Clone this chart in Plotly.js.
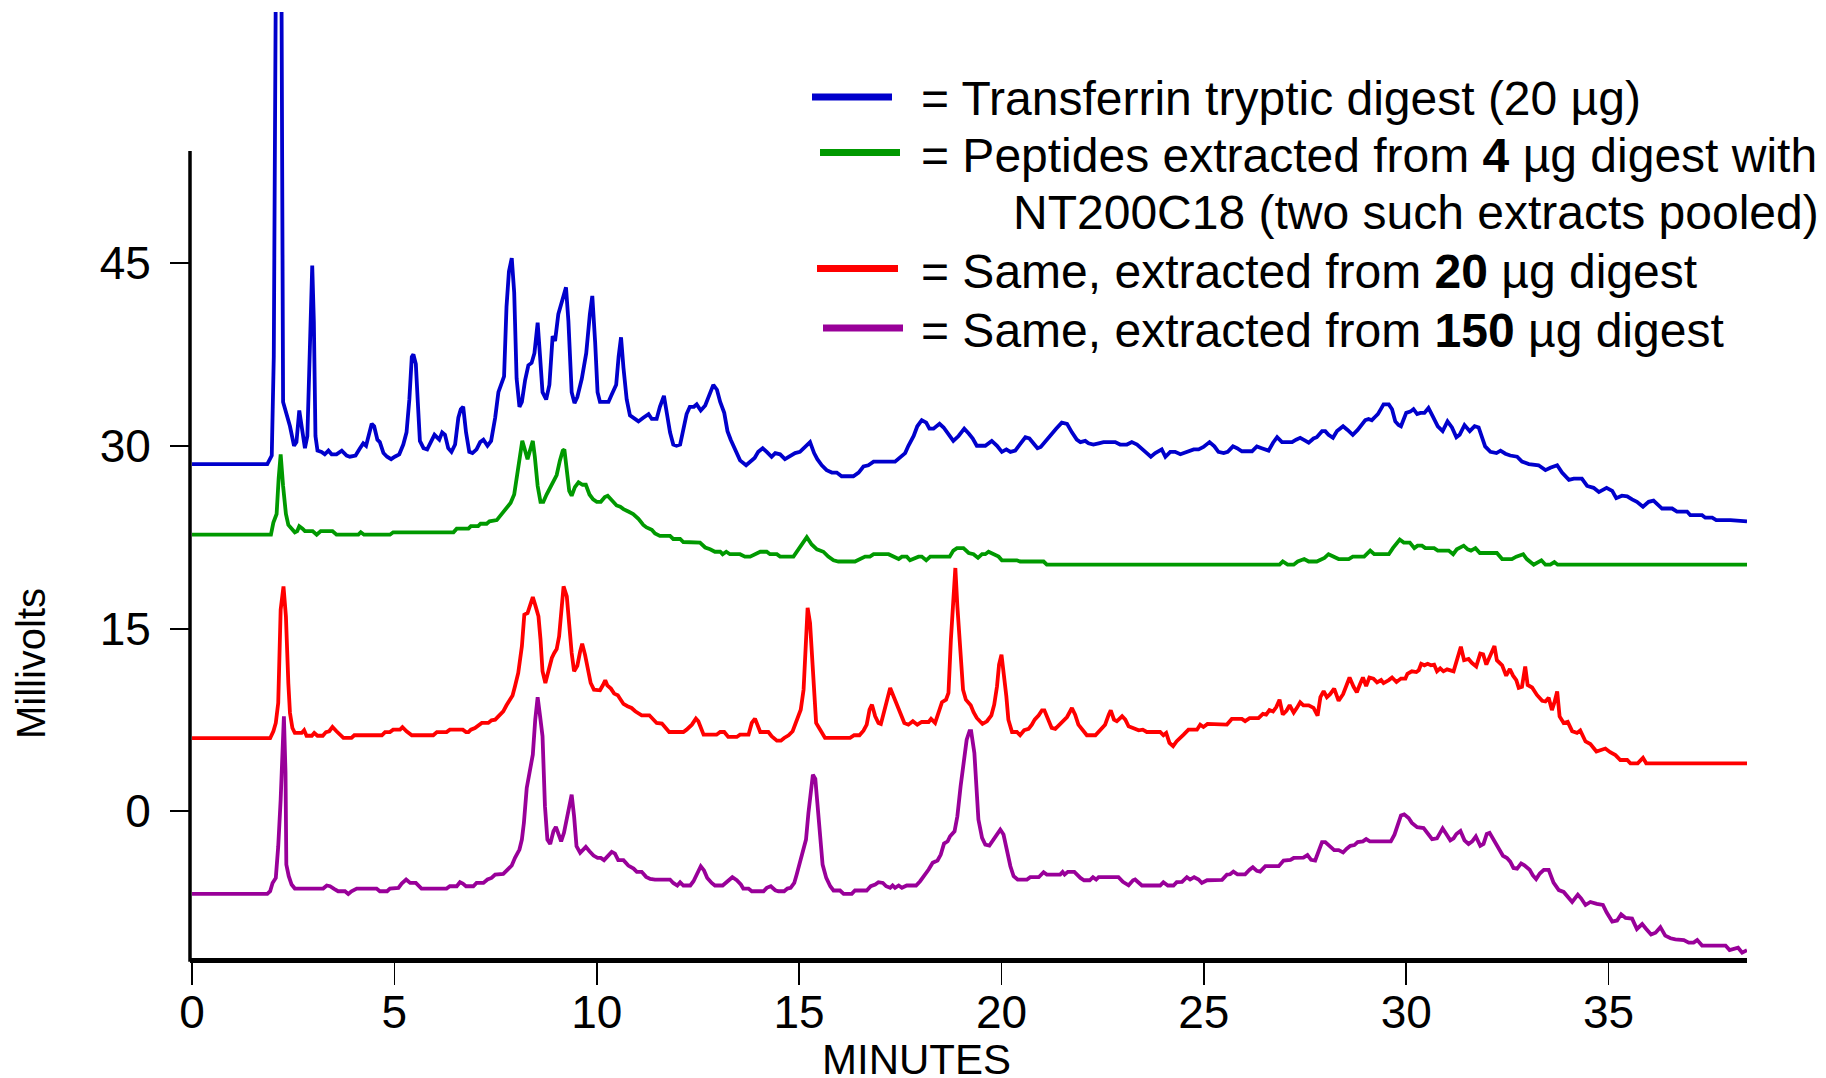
<!DOCTYPE html>
<html><head><meta charset="utf-8">
<script src="https://cdn.plot.ly/plotly-3.0.1.min.js"></script>
<style>html,body{margin:0;padding:0;background:#fff;}#chart{width:1826px;height:1078px;}</style>
</head><body><div id="chart"></div>
<script>
// ---- series labels and colours ----
const seriesNames = [
  'Transferrin tryptic digest (20 µg)',
  'Peptides extracted from <b>4</b> µg digest with<br>NT200C18 (two such extracts pooled)',
  'Same, extracted from <b>20</b> µg digest',
  'Same, extracted from <b>150</b> µg digest'
];
const seriesColors = ['#0000cc', '#009900', '#ff0000', '#990099'];
const xTickVals = [0, 5, 10, 15, 20, 25, 30, 35];
const yTickVals = [0, 15, 30, 45];
const xTitle = 'MINUTES';
const yTitle = 'Millivolts';

// ---- Transferrin tryptic digest (blue) ----
const timeTransferrin = [
 0, 1.86, 1.97, 2.02, 2.07, 2.21, 2.25, 2.34, 2.42, 2.52,
 2.58, 2.65, 2.71, 2.79, 2.85, 2.90, 2.97, 3.01, 3.05, 3.10,
 3.20, 3.28, 3.37, 3.45, 3.57, 3.70, 3.82, 3.90, 4.04, 4.15,
 4.23, 4.30, 4.37, 4.44, 4.50, 4.58, 4.64, 4.73, 4.82, 4.92,
 5.01, 5.12, 5.22, 5.30, 5.37, 5.43, 5.47, 5.53, 5.58, 5.63,
 5.72, 5.81, 5.90, 5.99, 6.11, 6.18, 6.25, 6.33, 6.41, 6.50,
 6.58, 6.64, 6.70, 6.77, 6.85, 6.93, 7.03, 7.12, 7.20, 7.30,
 7.39, 7.49, 7.57, 7.65, 7.71, 7.77, 7.83, 7.90, 7.96, 8.02,
 8.09, 8.15, 8.23, 8.31, 8.39, 8.46, 8.54, 8.60, 8.66, 8.75,
 8.83, 8.91, 8.97, 9.05, 9.13, 9.24, 9.30, 9.38, 9.45, 9.52,
 9.63, 9.74, 9.83, 9.89, 9.96, 10.02, 10.08, 10.29, 10.37, 10.48,
 10.54, 10.60, 10.66, 10.74, 10.82, 10.95, 11.03, 11.15, 11.28, 11.36,
 11.48, 11.56, 11.66, 11.74, 11.81, 11.89, 11.97, 12.06, 12.14, 12.22,
 12.30, 12.40, 12.47, 12.57, 12.68, 12.78, 12.88, 12.97, 13.05, 13.15,
 13.23, 13.31, 13.42, 13.54, 13.69, 13.79, 13.90, 13.99, 14.10, 14.20,
 14.32, 14.41, 14.53, 14.65, 14.78, 14.90, 15.02, 15.15, 15.27, 15.37,
 15.45, 15.56, 15.68, 15.81, 15.93, 16.05, 16.34, 16.47, 16.59, 16.71,
 16.84, 17.37, 17.50, 17.62, 17.70, 17.83, 17.92, 18.03, 18.14, 18.22,
 18.32, 18.47, 18.57, 18.69, 18.81, 18.94, 19.08, 19.19, 19.29, 19.39,
 19.60, 19.76, 19.89, 20.01, 20.12, 20.22, 20.34, 20.45, 20.59, 20.69,
 20.79, 20.89, 20.97, 21.12, 21.22, 21.35, 21.49, 21.62, 21.74, 21.86,
 21.95, 22.07, 22.15, 22.27, 22.40, 22.52, 22.81, 22.93, 23.10, 23.22,
 23.35, 23.47, 23.59, 23.69, 23.80, 23.96, 24.05, 24.17, 24.29, 24.42,
 24.58, 24.75, 24.87, 24.99, 25.14, 25.26, 25.36, 25.49, 25.59, 25.72,
 25.82, 25.94, 26.19, 26.31, 26.43, 26.52, 26.60, 26.71, 26.81, 26.93,
 27.18, 27.28, 27.38, 27.46, 27.59, 27.71, 27.79, 27.92, 28.00, 28.08,
 28.19, 28.29, 28.44, 28.55, 28.68, 28.80, 28.91, 28.99, 29.07, 29.15,
 29.24, 29.30, 29.38, 29.44, 29.57, 29.65, 29.73, 29.81, 29.87, 29.94,
 30.00, 30.10, 30.18, 30.27, 30.35, 30.45, 30.55, 30.66, 30.78, 30.90,
 31.02, 31.13, 31.24, 31.32, 31.44, 31.57, 31.69, 31.79, 31.87, 31.95,
 32.08, 32.23, 32.33, 32.45, 32.57, 32.74, 32.86, 33.03, 33.27, 33.44,
 33.56, 33.73, 33.85, 34.02, 34.14, 34.34, 34.47, 34.63, 34.76, 34.95,
 35.09, 35.19, 35.33, 35.46, 35.58, 35.70, 35.85, 35.99, 36.11, 36.24,
 36.32, 36.57, 36.69, 36.94, 37.02, 37.31, 37.39, 37.56, 37.66, 38.01,
 38.42
];
const mvTransferrin = [
 28.5, 28.5, 29.2, 37.3, 68, 68, 33.6, 32.5, 31.6, 30.0,
 30.3, 32.9, 31.4, 29.8, 30.8, 35.8, 44.8, 40.2, 30.8, 29.6,
 29.5, 29.3, 29.6, 29.3, 29.3, 29.6, 29.2, 29.1, 29.2, 29.8,
 30.2, 30.0, 30.9, 31.8, 31.6, 30.5, 30.3, 29.4, 29.1, 28.9,
 29.1, 29.3, 30.1, 31.1, 33.8, 37.3, 37.5, 36.7, 33.5, 30.4,
 29.8, 29.7, 30.3, 30.9, 30.5, 31.1, 30.9, 29.8, 29.5, 30.1,
 32.3, 33.0, 33.2, 31.1, 29.5, 29.4, 29.7, 30.3, 30.5, 30.0,
 30.4, 32.3, 34.4, 35.3, 35.7, 41.4, 44.3, 45.4, 42.6, 35.5,
 33.2, 33.6, 35.4, 36.6, 36.8, 37.6, 40.1, 37.3, 34.4, 33.8,
 35.0, 39.0, 38.6, 40.8, 41.8, 43.0, 40.2, 34.4, 33.5, 34.0,
 35.5, 37.6, 40.8, 42.3, 38.5, 34.4, 33.6, 33.6, 34.2, 35.0,
 37.3, 38.9, 36.4, 33.8, 32.5, 32.2, 32.0, 32.3, 32.6, 32.2,
 32.2, 33.2, 34.1, 32.5, 31.1, 30.1, 30.0, 30.1, 31.3, 32.6,
 33.2, 33.2, 33.4, 32.9, 33.3, 34.2, 35.0, 34.6, 33.6, 32.7,
 31.2, 30.5, 29.7, 28.8, 28.4, 28.7, 29.0, 29.5, 29.8, 29.5,
 29.1, 29.4, 29.3, 28.9, 29.2, 29.4, 29.5, 29.9, 30.3, 29.4,
 28.9, 28.4, 28.0, 27.8, 27.8, 27.5, 27.5, 27.8, 28.3, 28.4,
 28.7, 28.7, 29.1, 29.4, 30.0, 30.8, 31.6, 32.1, 31.9, 31.4,
 31.4, 31.8, 31.5, 30.9, 30.4, 30.8, 31.4, 31.0, 30.6, 30.0,
 30.0, 30.4, 30.0, 29.5, 29.7, 29.5, 29.6, 30.1, 30.7, 30.6,
 30.2, 29.8, 29.9, 30.5, 31.0, 31.4, 31.9, 31.8, 31.1, 30.5,
 30.3, 30.4, 30.2, 30.1, 30.2, 30.3, 30.3, 30.1, 30.1, 30.3,
 30.1, 29.7, 29.4, 29.1, 29.4, 29.7, 29.1, 29.5, 29.5, 29.3,
 29.5, 29.7, 29.7, 29.9, 30.3, 29.95, 29.5, 29.4, 29.5, 29.95,
 29.8, 29.55, 29.55, 29.95, 29.8, 29.7, 29.6, 30.25, 30.7, 30.3,
 30.3, 30.5, 30.65, 30.5, 30.25, 30.6, 30.7, 31.2, 31.2, 30.9,
 30.65, 31.2, 31.6, 31.3, 30.9, 31.3, 31.8, 32.1, 32.2, 32.1,
 32.4, 32.6, 33.05, 33.4, 33.4, 33.0, 32.0, 31.7, 31.6, 32.1,
 32.7, 32.8, 33.0, 32.6, 32.7, 32.7, 33.1, 32.4, 31.6, 31.2,
 32.0, 31.5, 30.7, 30.9, 31.7, 31.2, 31.6, 31.5, 30.7, 29.95,
 29.5, 29.4, 29.6, 29.35, 29.2, 29.1, 28.7, 28.5, 28.4, 28.0,
 28.2, 28.4, 27.8, 27.2, 27.3, 27.3, 26.7, 26.55, 26.2, 26.55,
 26.3, 25.7, 25.9, 25.85, 25.6, 25.4, 25.0, 25.4, 25.5, 25.1,
 24.85, 24.85, 24.6, 24.6, 24.3, 24.3, 24.1, 24.1, 23.9, 23.9,
 23.8
];

// ---- Peptides from 4 µg digest (green) ----
const timeExtract4 = [
 0, 1.95, 2.01, 2.09, 2.14, 2.19, 2.25, 2.32, 2.38, 2.46,
 2.54, 2.60, 2.65, 2.73, 2.79, 2.98, 3.08, 3.18, 3.47, 3.57,
 4.11, 4.17, 4.25, 4.89, 4.97, 6.46, 6.54, 6.83, 6.89, 7.07,
 7.13, 7.28, 7.35, 7.53, 7.65, 7.77, 7.87, 7.96, 8.02, 8.09,
 8.16, 8.23, 8.29, 8.35, 8.42, 8.47, 8.54, 8.61, 8.68, 8.76,
 8.89, 9.01, 9.09, 9.16, 9.20, 9.26, 9.32, 9.38, 9.46, 9.55,
 9.65, 9.73, 9.82, 9.91, 10.00, 10.10, 10.20, 10.27, 10.37, 10.49,
 10.58, 10.66, 10.78, 10.90, 11.03, 11.15, 11.23, 11.36, 11.44, 11.56,
 11.81, 11.89, 12.06, 12.14, 12.55, 12.68, 12.80, 12.92, 13.05, 13.11,
 13.20, 13.29, 13.54, 13.66, 13.79, 13.91, 14.04, 14.20, 14.28, 14.45,
 14.53, 14.86, 14.94, 15.07, 15.19, 15.31, 15.44, 15.60, 15.72, 15.85,
 15.97, 16.38, 16.51, 16.63, 16.75, 16.84, 17.21, 17.33, 17.46, 17.54,
 17.66, 17.74, 17.95, 18.03, 18.14, 18.24, 18.72, 18.81, 18.90, 19.06,
 19.19, 19.31, 19.42, 19.52, 19.60, 19.68, 19.80, 19.93, 20.01, 20.38,
 20.46, 21.04, 21.12, 26.87, 26.95, 27.07, 27.22, 27.32, 27.48, 27.59,
 27.79, 27.89, 27.98, 28.08, 28.19, 28.33, 28.58, 28.68, 28.96, 29.11,
 29.21, 29.57, 29.67, 29.77, 29.84, 29.94, 30.09, 30.20, 30.28, 30.39,
 30.47, 30.69, 30.78, 31.05, 31.16, 31.25, 31.42, 31.52, 31.60, 31.71,
 31.82, 32.24, 32.37, 32.61, 32.72, 32.89, 32.98, 33.15, 33.27, 33.34,
 33.44, 33.56, 33.66, 33.74, 38.42
];
const mvExtract4 = [
 22.7, 22.7, 23.7, 24.4, 27.3, 29.3, 26.7, 24.4, 23.5, 23.2,
 22.9, 23.0, 23.4, 23.2, 23.0, 23.0, 22.7, 23.0, 23.0, 22.7,
 22.7, 22.9, 22.7, 22.7, 22.9, 22.9, 23.2, 23.2, 23.4, 23.4,
 23.6, 23.6, 23.8, 23.9, 24.4, 24.8, 25.3, 26.0, 27.2, 28.8,
 30.4, 29.6, 28.9, 29.6, 30.4, 29.1, 26.7, 25.4, 25.4, 26.0,
 26.8, 27.6, 28.8, 29.6, 29.7, 27.9, 26.3, 25.9, 26.6, 27.0,
 26.8, 26.8, 26.0, 25.6, 25.4, 25.4, 25.8, 25.9, 25.5, 25.1,
 25.0, 24.8, 24.6, 24.4, 24.0, 23.5, 23.3, 23.1, 22.8, 22.6,
 22.6, 22.35, 22.35, 22.1, 22.05, 21.65, 21.5, 21.3, 21.3, 21.1,
 21.3, 21.1, 21.1, 20.9, 20.9, 21.1, 21.3, 21.3, 21.1, 21.1,
 20.9, 20.9, 21.3, 22.0, 22.5, 21.9, 21.5, 21.3, 20.9, 20.6,
 20.5, 20.5, 20.7, 20.9, 20.9, 21.1, 21.1, 20.9, 20.7, 20.9,
 20.9, 20.6, 20.9, 20.9, 20.6, 20.9, 20.9, 21.4, 21.6, 21.6,
 21.2, 21.1, 20.8, 21.1, 21.1, 21.3, 21.1, 20.9, 20.6, 20.6,
 20.5, 20.5, 20.24, 20.24, 20.5, 20.24, 20.24, 20.5, 20.7, 20.5,
 20.5, 20.7, 20.8, 21.1, 20.9, 20.7, 20.7, 20.9, 20.9, 21.4,
 21.1, 21.1, 21.6, 22.05, 22.3, 22.05, 22.05, 21.6, 21.8, 21.8,
 21.6, 21.6, 21.4, 21.4, 21.1, 21.5, 21.8, 21.5, 21.4, 21.6,
 21.2, 21.2, 20.7, 20.7, 20.9, 21.1, 20.7, 20.24, 20.5, 20.6,
 20.24, 20.24, 20.45, 20.24, 20.24
];

// ---- Same, from 20 µg digest (red) ----
const timeExtract20 = [
 0, 1.93, 2.01, 2.07, 2.13, 2.19, 2.26, 2.32, 2.38, 2.42,
 2.48, 2.54, 2.71, 2.77, 2.83, 2.96, 3.02, 3.10, 3.23, 3.31,
 3.39, 3.47, 3.57, 3.74, 3.94, 4.01, 4.69, 4.77, 4.89, 4.97,
 5.14, 5.20, 5.30, 5.43, 5.96, 6.05, 6.29, 6.37, 6.69, 6.77,
 6.83, 6.89, 6.99, 7.07, 7.16, 7.32, 7.40, 7.49, 7.59, 7.69,
 7.77, 7.87, 7.92, 7.98, 8.06, 8.15, 8.21, 8.29, 8.35, 8.42,
 8.49, 8.56, 8.61, 8.66, 8.73, 8.80, 8.89, 8.95, 9.01, 9.07,
 9.13, 9.18, 9.26, 9.32, 9.38, 9.44, 9.52, 9.59, 9.64, 9.71,
 9.78, 9.85, 9.93, 10.08, 10.15, 10.21, 10.26, 10.35, 10.43, 10.52,
 10.58, 10.66, 10.76, 10.86, 10.95, 11.03, 11.11, 11.30, 11.40, 11.48,
 11.61, 11.69, 11.79, 12.14, 12.22, 12.35, 12.45, 12.51, 12.59, 12.64,
 12.96, 13.05, 13.15, 13.25, 13.46, 13.54, 13.75, 13.83, 13.91, 13.97,
 14.04, 14.24, 14.32, 14.45, 14.55, 14.63, 14.74, 14.84, 14.94, 15.04,
 15.11, 15.17, 15.21, 15.27, 15.32, 15.37, 15.42, 15.52, 15.64, 16.26,
 16.36, 16.49, 16.59, 16.67, 16.74, 16.80, 16.88, 16.96, 17.02, 17.08,
 17.17, 17.25, 17.35, 17.46, 17.54, 17.60, 17.70, 17.81, 17.92, 18.03,
 18.20, 18.26, 18.36, 18.44, 18.53, 18.63, 18.69, 18.75, 18.80, 18.86,
 18.91, 18.98, 19.05, 19.12, 19.24, 19.31, 19.39, 19.53, 19.64, 19.75,
 19.82, 19.89, 19.94, 20.00, 20.05, 20.12, 20.17, 20.26, 20.38, 20.46,
 20.56, 20.67, 20.75, 20.82, 20.92, 21.00, 21.06, 21.15, 21.24, 21.33,
 21.45, 21.62, 21.74, 21.82, 21.90, 21.99, 22.11, 22.32, 22.44, 22.56,
 22.65, 22.70, 22.78, 22.85, 22.98, 23.06, 23.14, 23.26, 23.39, 23.49,
 23.59, 23.92, 24.00, 24.07, 24.15, 24.24, 24.33, 24.50, 24.62, 24.83,
 24.91, 24.99, 25.09, 25.57, 25.69, 25.94, 26.02, 26.13, 26.35, 26.46,
 26.54, 26.62, 26.71, 26.79, 26.87, 26.95, 27.04, 27.12, 27.22, 27.30,
 27.38, 27.46, 27.59, 27.71, 27.81, 27.88, 27.96, 28.04, 28.12, 28.22,
 28.33, 28.44, 28.52, 28.60, 28.70, 28.78, 28.85, 28.93, 29.01, 29.09,
 29.19, 29.28, 29.38, 29.44, 29.57, 29.65, 29.76, 29.87, 29.98, 30.03,
 30.14, 30.25, 30.31, 30.37, 30.45, 30.53, 30.61, 30.69, 30.76, 30.84,
 30.92, 31.01, 31.17, 31.25, 31.35, 31.43, 31.54, 31.62, 31.73, 31.83,
 31.90, 31.98, 32.06, 32.18, 32.24, 32.37, 32.47, 32.56, 32.64, 32.72,
 32.78, 32.86, 32.94, 33.00, 33.11, 33.23, 33.36, 33.44, 33.52, 33.60,
 33.66, 33.73, 33.79, 33.89, 33.99, 34.10, 34.22, 34.30, 34.43, 34.55,
 34.70, 34.81, 34.92, 35.04, 35.17, 35.29, 35.46, 35.54, 35.72, 35.85,
 35.93, 38.42
];
const mvExtract20 = [
 6.0, 6.0, 6.57, 7.25, 8.9, 16.55, 18.46, 16.0, 10.5, 8.07,
 6.84, 6.43, 6.43, 6.65, 6.2, 6.2, 6.43, 6.2, 6.2, 6.5,
 6.57, 6.92, 6.57, 6.02, 6.02, 6.24, 6.24, 6.5, 6.5, 6.7,
 6.7, 6.9, 6.57, 6.24, 6.24, 6.5, 6.5, 6.7, 6.7, 6.5,
 6.5, 6.7, 6.84, 7.06, 7.25, 7.25, 7.47, 7.52, 7.85, 8.2,
 8.7, 9.3, 9.5, 10.26, 11.35, 13.54, 16.14, 16.27, 16.96, 17.59,
 16.82, 16.0, 14.1, 11.49, 10.53, 11.49, 12.58, 13.0, 13.32, 14.36,
 16.55, 18.46, 17.64, 15.2, 13.0, 11.49, 11.95, 13.13, 13.76, 12.86,
 11.49, 10.53, 9.98, 9.93, 10.34, 10.75, 10.34, 10.07, 9.66, 9.52,
 9.22, 8.81, 8.62, 8.48, 8.21, 8.02, 7.88, 7.88, 7.52, 7.25,
 7.2, 6.92, 6.51, 6.51, 6.7, 7.11, 7.61, 7.39, 6.57, 6.29,
 6.29, 6.51, 6.51, 6.1, 6.1, 6.29, 6.29, 7.25, 7.61, 7.11,
 6.51, 6.51, 6.16, 5.8, 5.8, 6.02, 6.24, 6.57, 7.52, 8.34,
 9.98, 14.1, 16.7, 15.45, 12.72, 9.98, 7.25, 6.7, 6.02, 6.02,
 6.24, 6.24, 6.62, 7.11, 8.34, 8.75, 7.8, 7.25, 7.17, 7.93,
 9.08, 10.12, 9.3, 8.34, 7.8, 7.25, 7.11, 7.39, 7.11, 7.33,
 7.33, 7.58, 7.25, 8.07, 8.95, 9.16, 9.71, 14.09, 17.37, 19.97,
 16.82, 12.72, 9.98, 9.16, 8.7, 8.13, 7.66, 7.17, 7.39, 7.88,
 8.75, 10.26, 12.04, 12.86, 11.63, 9.44, 7.52, 6.51, 6.51, 6.24,
 6.65, 6.76, 7.11, 7.52, 7.88, 8.29, 8.29, 7.52, 6.84, 6.76,
 7.17, 7.74, 8.48, 7.93, 7.11, 6.7, 6.24, 6.24, 6.7, 7.11,
 7.93, 8.29, 7.52, 7.39, 7.8, 7.52, 6.98, 6.84, 6.65, 6.7,
 6.51, 6.51, 6.24, 6.43, 5.61, 5.34, 5.75, 6.29, 6.7, 6.7,
 7.11, 6.92, 7.17, 7.12, 7.58, 7.58, 7.4, 7.64, 7.64, 8.0,
 7.94, 8.31, 8.19, 8.55, 9.16, 7.94, 8.25, 8.7, 8.1, 8.49,
 8.95, 8.7, 8.7, 8.49, 7.85, 9.37, 9.86, 9.37, 9.61, 10.07,
 9.07, 9.61, 10.22, 10.98, 10.22, 9.77, 10.37, 10.98, 10.28, 10.98,
 10.89, 10.58, 10.77, 10.52, 10.77, 10.98, 10.61, 10.89, 10.89, 11.28,
 11.49, 11.43, 11.58, 12.1, 11.98, 12.1, 11.98, 12.04, 11.49, 11.74,
 11.49, 11.65, 11.49, 12.34, 13.5, 12.4, 12.5, 12.19, 11.89, 12.95,
 12.89, 12.04, 12.71, 13.56, 12.4, 11.98, 11.13, 11.68, 11.13, 10.77,
 10.13, 10.22, 11.89, 10.37, 10.16, 9.55, 9.07, 9.01, 9.31, 8.31,
 8.92, 9.83, 7.79, 7.25, 7.34, 6.58, 6.43, 6.64, 5.73, 5.52,
 4.91, 5.06, 5.15, 4.85, 4.61, 4.21, 4.21, 3.94, 3.94, 4.39,
 3.94, 3.94
];

// ---- Same, from 150 µg digest (purple) ----
const timeExtract150 = [
 0, 1.86, 1.93, 1.99, 2.07, 2.13, 2.19, 2.24, 2.27, 2.31,
 2.33, 2.39, 2.46, 2.54, 3.24, 3.33, 3.41, 3.51, 3.61, 3.78,
 3.86, 3.94, 4.07, 4.56, 4.64, 4.82, 4.89, 5.10, 5.18, 5.29,
 5.39, 5.53, 5.67, 6.29, 6.37, 6.54, 6.62, 6.69, 6.77, 6.95,
 7.03, 7.20, 7.30, 7.40, 7.49, 7.69, 7.77, 7.90, 7.98, 8.09,
 8.15, 8.20, 8.27, 8.33, 8.42, 8.48, 8.54, 8.60, 8.66, 8.72,
 8.78, 8.85, 8.93, 8.99, 9.05, 9.12, 9.19, 9.28, 9.38, 9.44,
 9.50, 9.59, 9.65, 9.73, 9.82, 9.92, 10.02, 10.10, 10.18, 10.29,
 10.37, 10.45, 10.53, 10.66, 10.78, 10.91, 10.99, 11.11, 11.22, 11.32,
 11.44, 11.81, 11.89, 11.99, 12.06, 12.14, 12.31, 12.39, 12.47, 12.57,
 12.65, 12.73, 12.84, 12.92, 13.11, 13.23, 13.35, 13.46, 13.56, 13.62,
 13.75, 13.83, 14.12, 14.20, 14.30, 14.41, 14.49, 14.63, 14.71, 14.79,
 14.88, 14.94, 15.02, 15.11, 15.17, 15.23, 15.29, 15.34, 15.40, 15.45,
 15.52, 15.58, 15.67, 15.77, 15.85, 16.01, 16.10, 16.30, 16.38, 16.67,
 16.77, 16.88, 16.96, 17.07, 17.15, 17.25, 17.31, 17.37, 17.46, 17.54,
 17.66, 17.89, 17.99, 18.09, 18.20, 18.30, 18.42, 18.50, 18.58, 18.67,
 18.73, 18.84, 18.91, 18.99, 19.08, 19.14, 19.21, 19.25, 19.33, 19.38,
 19.43, 19.52, 19.60, 19.70, 19.80, 19.89, 19.97, 20.05, 20.13, 20.22,
 20.30, 20.40, 20.63, 20.71, 20.92, 21.04, 21.12, 21.45, 21.51, 21.56,
 21.64, 21.80, 21.95, 22.04, 22.18, 22.26, 22.34, 22.40, 22.89, 23.00,
 23.14, 23.25, 23.30, 23.47, 23.92, 24.00, 24.11, 24.25, 24.33, 24.46,
 24.58, 24.66, 24.76, 24.87, 24.95, 25.08, 25.45, 25.57, 25.65, 25.73,
 25.83, 26.02, 26.13, 26.21, 26.31, 26.39, 26.52, 26.85, 26.97, 27.14,
 27.22, 27.46, 27.56, 27.65, 27.75, 27.84, 27.92, 28.00, 28.11, 28.22,
 28.33, 28.44, 28.53, 28.62, 28.72, 28.80, 28.93, 29.01, 29.10, 29.62,
 29.71, 29.79, 29.87, 29.95, 30.06, 30.14, 30.27, 30.43, 30.51, 30.64,
 30.76, 30.90, 30.99, 31.09, 31.17, 31.24, 31.34, 31.44, 31.54, 31.63,
 31.72, 31.83, 31.91, 31.99, 32.06, 32.16, 32.28, 32.39, 32.49, 32.57,
 32.65, 32.74, 32.84, 32.92, 33.05, 33.13, 33.21, 33.30, 33.40, 33.52,
 33.64, 33.77, 33.89, 34.02, 34.10, 34.24, 34.32, 34.43, 34.55, 34.71,
 34.86, 34.95, 35.09, 35.21, 35.31, 35.42, 35.58, 35.70, 35.83, 35.93,
 36.05, 36.16, 36.28, 36.40, 36.53, 36.65, 36.86, 36.98, 37.10, 37.19,
 37.31, 37.89, 37.99, 38.20, 38.30, 38.42
];
const mvExtract150 = [
 -6.78, -6.78, -6.56, -5.88, -5.47, -2.87, 0.96, 5.88, 7.8, 3.15,
 -4.37, -5.33, -6.01, -6.34, -6.34, -6.09, -6.15, -6.37, -6.56, -6.56,
 -6.78, -6.56, -6.34, -6.34, -6.56, -6.56, -6.34, -6.28, -5.93, -5.6,
 -5.88, -5.88, -6.34, -6.34, -6.15, -6.15, -5.82, -5.93, -6.15, -6.15,
 -5.88, -5.88, -5.6, -5.47, -5.19, -5.14, -4.86, -4.45, -3.82, -3.14,
 -2.32, -0.95, 1.92, 3.15, 4.65, 7.52, 9.36, 7.8, 6.16, 0.42,
 -2.32, -2.68, -1.64, -1.28, -1.91, -2.46, -1.77, -0.13, 1.37, -0.41,
 -2.87, -3.41, -3.19, -2.92, -3.28, -3.63, -3.82, -3.82, -4.01, -3.55,
 -3.33, -3.47, -4.01, -4.01, -4.45, -4.7, -4.97, -4.97, -5.38, -5.55,
 -5.6, -5.6, -5.88, -6.09, -5.82, -6.09, -6.09, -5.74, -5.14, -4.51,
 -4.85, -5.47, -5.88, -6.09, -6.09, -5.74, -5.41, -5.66, -6.01, -6.34,
 -6.34, -6.56, -6.56, -6.28, -6.15, -6.48, -6.56, -6.56, -6.34, -6.28,
 -5.88, -5.19, -4.23, -3.28, -2.32, -0.13, 2.05, 3.01, 2.66, 0.42,
 -2.59, -4.37, -5.47, -6.15, -6.5, -6.5, -6.78, -6.78, -6.5, -6.5,
 -6.15, -6.01, -5.82, -5.88, -6.15, -6.28, -6.09, -6.28, -6.09, -6.28,
 -6.09, -6.09, -5.74, -5.33, -4.78, -4.23, -4.04, -3.55, -2.65, -2.46,
 -2.05, -1.64, -0.41, 2.05, 4.24, 5.88, 6.57, 6.57, 4.79, 1.78,
 -0.68, -2.18, -2.73, -2.81, -2.32, -1.77, -1.5, -1.91, -3.14, -4.51,
 -5.33, -5.6, -5.6, -5.41, -5.41, -5.0, -5.19, -5.19, -4.97, -5.19,
 -4.97, -4.97, -5.47, -5.66, -5.66, -5.41, -5.6, -5.41, -5.41, -5.79,
 -6.07, -5.66, -5.6, -6.09, -6.09, -5.82, -6.09, -6.09, -5.82, -5.79,
 -5.41, -5.6, -5.41, -5.6, -5.88, -5.66, -5.62, -5.2, -5.17, -4.95,
 -5.17, -5.17, -4.8, -4.59, -4.89, -4.95, -4.5, -4.5, -4.04, -3.98,
 -3.83, -3.8, -3.59, -3.98, -4.04, -3.13, -2.53, -2.53, -2.89, -3.19,
 -3.19, -3.38, -3.07, -2.83, -2.77, -2.53, -2.47, -2.28, -2.47, -2.47,
 -1.92, -1.01, -0.34, -0.25, -0.55, -0.95, -1.31, -1.37, -1.77, -2.28,
 -2.22, -1.4, -1.86, -2.38, -2.22, -1.86, -1.62, -2.38, -2.68, -2.47,
 -2.07, -2.83, -2.68, -1.86, -1.77, -2.38, -3.13, -3.65, -3.83, -4.13,
 -4.65, -4.71, -4.28, -4.44, -4.8, -5.26, -5.56, -5.11, -4.8, -4.8,
 -5.86, -6.47, -6.62, -7.08, -7.44, -6.84, -7.14, -7.69, -7.44, -7.6,
 -7.69, -8.29, -9.05, -8.96, -8.45, -8.75, -8.81, -9.66, -9.26, -9.66,
 -10.11, -9.96, -9.51, -10.2, -10.42, -10.51, -10.57, -10.78, -10.78, -10.57,
 -11.02, -11.02, -11.39, -11.2, -11.6, -11.4
];

const seriesTimes = [timeTransferrin, timeExtract4, timeExtract20, timeExtract150];
const seriesValues = [mvTransferrin, mvExtract4, mvExtract20, mvExtract150];

// ---- layout constants (pixels of the 1826x1078 page) ----
const W = 1826, H = 1078;
const M = {l: 190, r: 79, t: 12, b: 120};
const xRange = [-0.05, 38.42];
const yRange = [-12.04, 65.6];
const yAxisLineTop = 54.2;          // visible y-axis line ends here (mV)
const plotW = W - M.l - M.r, plotH = H - M.t - M.b;
const px = X => (X - M.l) / plotW;          // page pixel -> paper x
const py = Y => (H - M.b - Y) / plotH;      // page pixel -> paper y
const yPaper = v => (v - yRange[0]) / (yRange[1] - yRange[0]);
const FONT = 'Liberation Sans, Arial, Helvetica, sans-serif';

const traces = seriesNames.map((name, i) => ({
  type: 'scatter', mode: 'lines',
  x: seriesTimes[i], y: seriesValues[i],
  name: name.replace('<br>', ' '),
  line: {color: seriesColors[i], width: 3.8},
  showlegend: false
}));

// legend (drawn as annotations + sample lines)
const legendRowY = [98, 155, 271, 330];
const legendContY = 213;
const legendSample = [[812, 892, 97], [820, 900, 152.5], [817, 898, 268.5], [823, 903, 328]];
const annotations = [];
const shapes = [];
seriesNames.forEach((name, i) => {
  const lines = name.split('<br>');
  annotations.push({xref: 'paper', yref: 'paper', x: px(919), y: py(legendRowY[i]),
    xanchor: 'left', yanchor: 'middle', showarrow: false, text: '= ' + lines[0],
    font: {family: FONT, size: 48, color: '#000'}});
  if (lines.length > 1) {
    annotations.push({xref: 'paper', yref: 'paper', x: px(1011), y: py(legendContY),
      xanchor: 'left', yanchor: 'middle', showarrow: false, text: lines[1],
      font: {family: FONT, size: 48, color: '#000'}});
  }
  const s = legendSample[i];
  shapes.push({type: 'line', xref: 'paper', yref: 'paper', x0: px(s[0]), x1: px(s[1]),
    y0: py(s[2]), y1: py(s[2]), line: {color: seriesColors[i], width: 7}});
});
// axis titles
annotations.push({xref: 'paper', yref: 'paper', x: px(916), y: py(1059), xanchor: 'center', yanchor: 'middle',
  showarrow: false, text: xTitle, font: {family: FONT, size: 42, color: '#000'}});
annotations.push({xref: 'paper', yref: 'paper', x: px(31), y: py(664), xanchor: 'center', yanchor: 'middle',
  showarrow: false, text: yTitle, textangle: -90, font: {family: FONT, size: 40, color: '#000'}});
// y-axis line (shorter than the plot area)
shapes.push({type: 'line', xref: 'paper', yref: 'paper', x0: 0, x1: 0,
  y0: yPaper(-12.35), y1: yPaper(yAxisLineTop), line: {color: '#000', width: 3.5}});

const layout = {
  width: W, height: H, margin: M,
  paper_bgcolor: '#fff', plot_bgcolor: '#fff',
  font: {family: FONT, color: '#000'},
  showlegend: false,
  xaxis: {range: xRange, showgrid: false, zeroline: false, showline: true, linewidth: 5, linecolor: '#000',
    ticks: 'outside', ticklen: 22, tickwidth: 1.5, tickcolor: '#000', tickvals: xTickVals,
    ticklabelstandoff: -12, tickfont: {family: FONT, size: 46, color: '#000'}},
  yaxis: {range: yRange, showgrid: false, zeroline: false, showline: false,
    ticks: 'outside', ticklen: 19, tickwidth: 2, tickcolor: '#000', tickvals: yTickVals,
    ticklabelstandoff: 10, tickfont: {family: FONT, size: 46, color: '#000'}},
  annotations: annotations, shapes: shapes
};
Plotly.newPlot('chart', traces, layout, {displayModeBar: false, staticPlot: true});
</script></body></html>
